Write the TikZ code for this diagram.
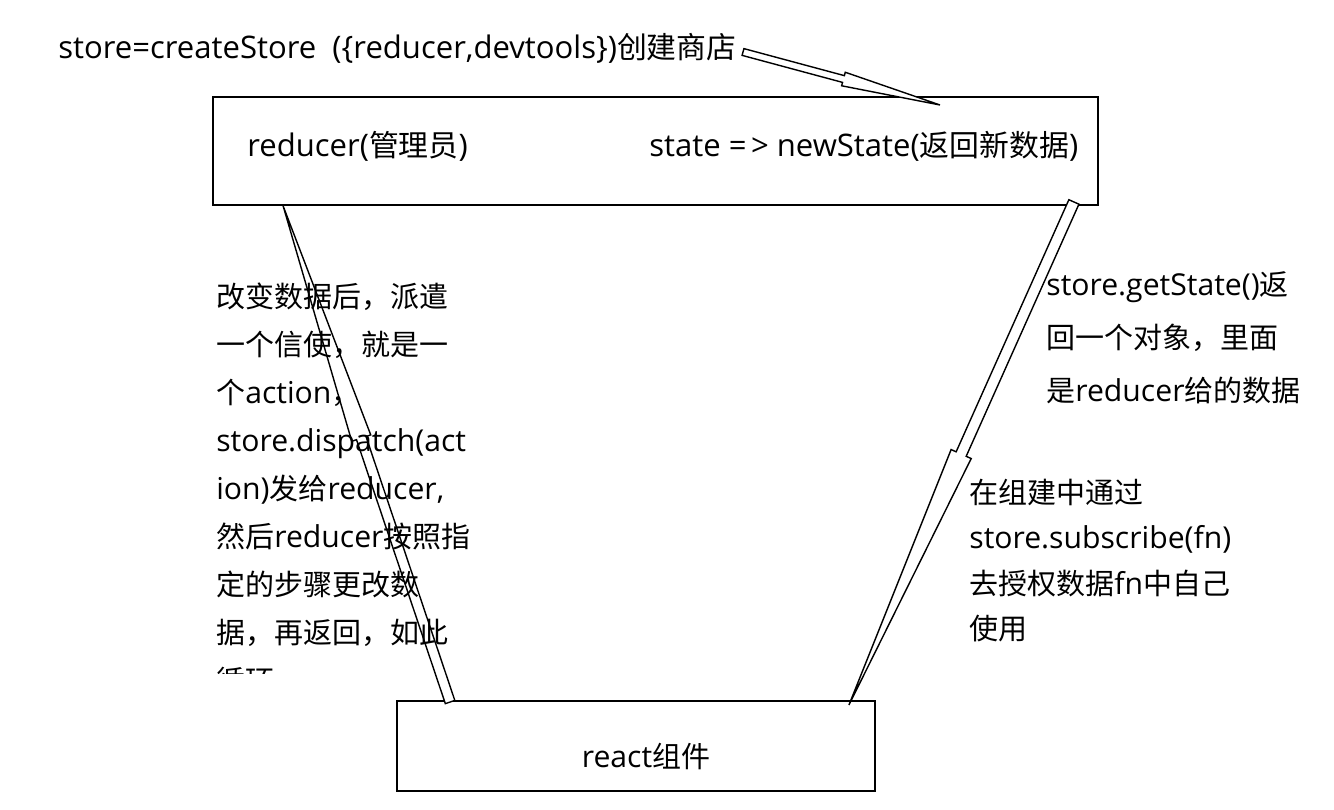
\documentclass[tikz,border=0pt]{standalone}
\usepackage{fontspec}
\setmainfont{Open Sans}[Scale=1.04]
\newfontfamily\cjk{Noto Sans CJK SC}
\newcommand{\zh}[1]{{\cjk #1}}
\usepackage{tikz}
\usetikzlibrary{positioning}
\usetikzlibrary{calc}
\tikzset{txt/.style={inner sep=0pt, font=\fontsize{16.5pt}{20pt}\selectfont}}
\tikzset{arr/.style={draw=black, line width=0.8pt, fill=white, line join=miter}}
% tail, tip, shaft half width, head half width, head length
\newcommand{\hollowarrow}[5]{
\coordinate (hb) at ($(#2)!#5!(#1)$);
\draw[arr] ($(#1)!#3!90:(#2)$) -- ($(hb)!#3!90:(#2)$) -- ($(hb)!#4!90:(#2)$) -- (#2)
  -- ($(hb)!#4!-90:(#2)$) -- ($(hb)!#3!-90:(#2)$) -- ($(#1)!#3!-90:(#2)$) -- cycle;
}

\begin{document}
\begin{tikzpicture}
[
x=0.02cm, y=-0.02cm,
b/.style={rectangle, draw=black, line width=1.1pt, inner sep=0pt},
p/.style={txt, align=left, anchor=north west},
bt/.style={txt, anchor=west, font=\fontsize{17pt}{20pt}\selectfont}
]
\useasboundingbox (0,0) rectangle (1334,810);

\node[b, minimum width=17.7cm, minimum height=2.16cm] (st) at (655.5,151) {};
\node[b, minimum width=9.56cm, minimum height=1.8cm] (rc) at (636,746) {};

\node[txt, anchor=west, font=\fontsize{17pt}{20pt}\selectfont] (title) at (58,48)
  {store=createStore\ \ (\{reducer,devtools\})\zh{创建商店}};
\node[bt] (red) at (247,146) {reducer(\zh{管理员})};
\node[bt] (ns) at (649,146) {state =\kern2.5pt> newState(\zh{返回新数据})};
\node[txt] (rct) at (646,756) {react\zh{组件}};

\coordinate (a1) at (743,52);
\coordinate (a2) at (940,105);
\coordinate (l1) at ($(rc.north west)+(54,2)$);
\coordinate (l2) at ($(st.south west)+(71,0)$);
\coordinate (r1) at ($(st.south east)+(-25,-4)$);
\coordinate (r2) at ($(rc.north east)+(-27,5)$);

\hollowarrow{a1}{a2}{0.07cm}{0.14cm}{2cm}
\hollowarrow{l1}{l2}{0.1cm}{0.2cm}{4.9cm}
\hollowarrow{r1}{r2}{0.11cm}{0.22cm}{5.5cm}

\begin{scope}
\clip (200,270) rectangle (520,673);
\node[p, font=\fontsize{16.5pt}{0.96cm}\selectfont] (act) at (216,283)
  {\zh{改变数据后，派遣}\\\zh{一个信使，就是一}\\\zh{个}action\zh{，}\\store.dispatch(act\\ion)\zh{发给}reducer,\\\zh{然后}reducer\zh{按照指}\\\zh{定的步骤更改数}\\\zh{据，再返回，如此}\\\zh{循环}};
\end{scope}
\node[p, font=\fontsize{16.5pt}{1.06cm}\selectfont] (get) at (1046,271)
  {store.getState()\zh{返}\\\zh{回一个对象，里面}\\\zh{是}reducer\zh{给的数据}};
\node[p, font=\fontsize{16.5pt}{0.906cm}\selectfont] (sub) at (969,479)
  {\zh{在组建中通过}\\store.subscribe(fn)\\\zh{去授权数据}fn\zh{中自己}\\\zh{使用}};
\end{tikzpicture}
\end{document}
